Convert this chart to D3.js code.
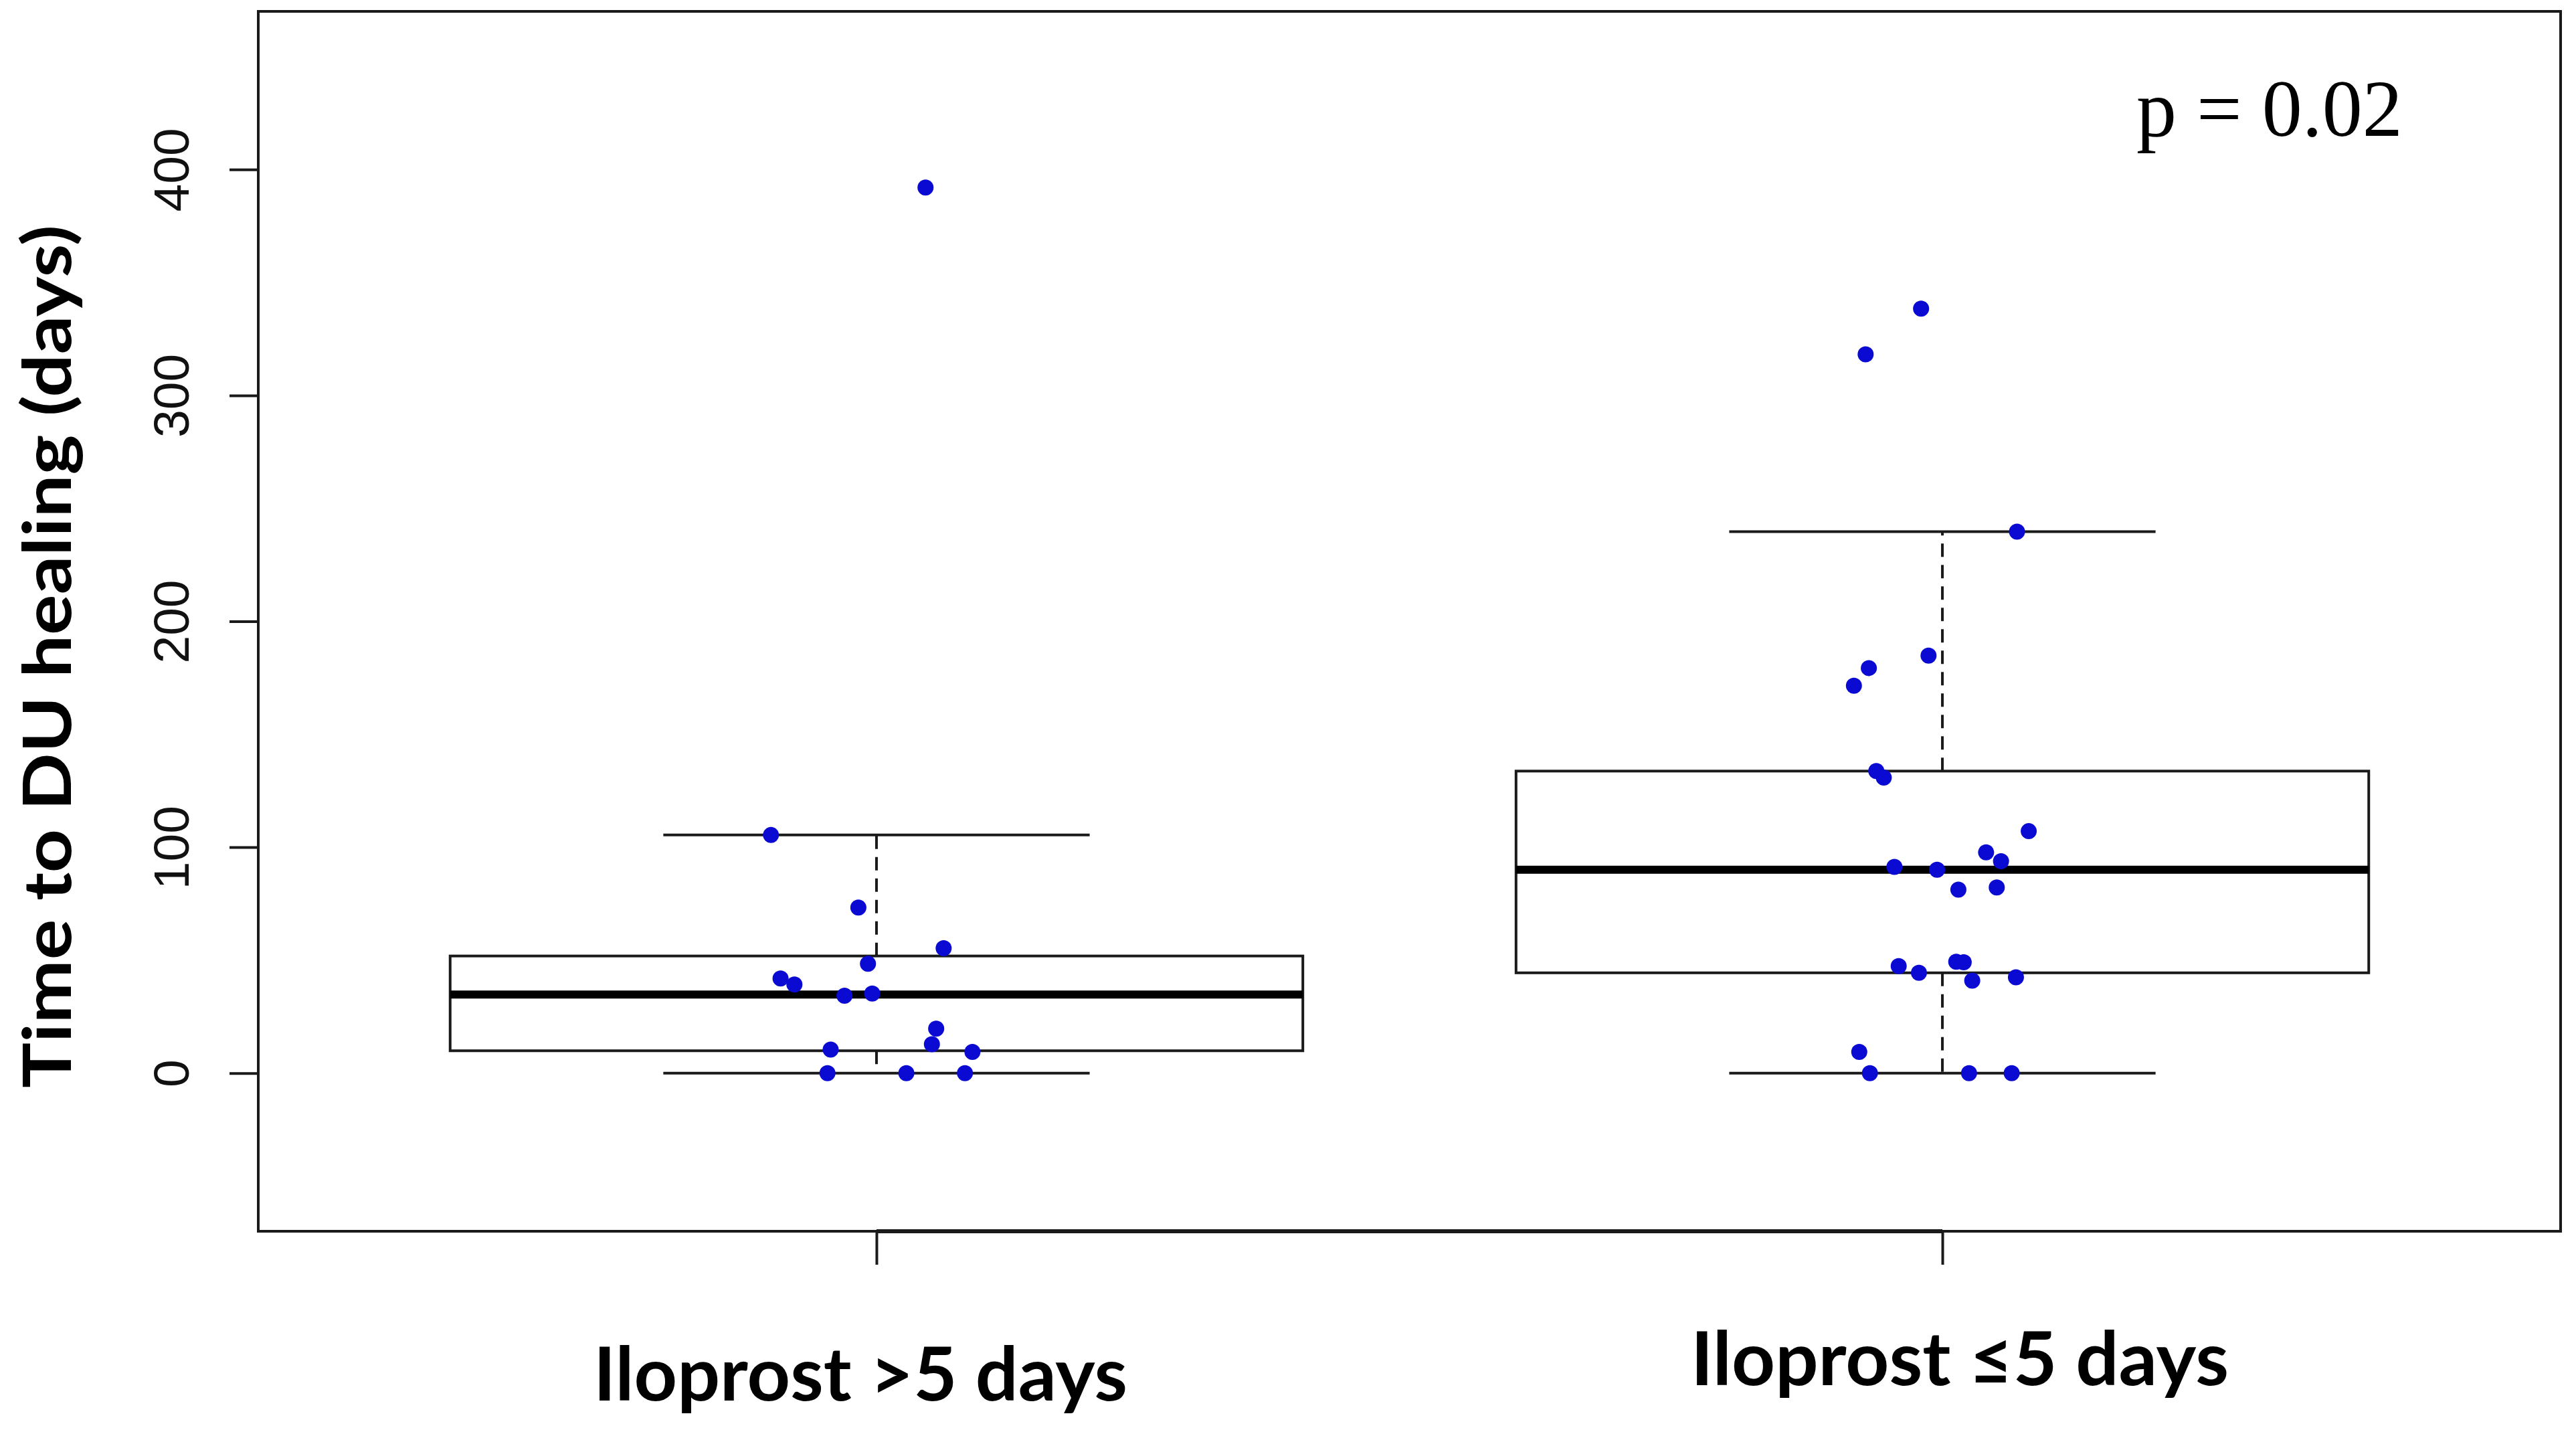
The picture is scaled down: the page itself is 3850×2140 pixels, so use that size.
<!DOCTYPE html>
<html>
<head>
<meta charset="utf-8">
<script src="https://cdn.jsdelivr.net/npm/d3@7"></script>
<style>
  html, body { margin: 0; padding: 0; background: #ffffff; }
  svg { display: block; }
</style>
</head>
<body>
<svg id="chart" width="3850" height="2140"></svg>
<script>
// ---------------- data ----------------
const categories = ["Iloprost >5 days", "Iloprost \u22645 days"];
const yTicks = [0, 100, 200, 300, 400];
const yLabel = "Time to DU healing (days)";
const pText = "p = 0.02";

// Group 1: Iloprost >5 days (values in days, jitter in category units)
const group1Values = [392, 105.4, 73.3, 55.3, 48.4, 41.9, 39.2, 34.3, 35.2, 19.7, 12.8, 10.4, 9.4, 0, 0, 0];
const group1Jitter = [0.046, -0.099, -0.017, 0.063, -0.008, -0.090, -0.077, -0.030, -0.004, 0.056, 0.052, -0.043, 0.090, -0.046, 0.028, 0.083];

// Group 2: Iloprost <=5 days
const group2Values = [338.4, 318.2, 239.7, 184.8, 179.3, 171.5, 133.7, 130.8, 107.1, 97.7, 93.8, 91.3, 90.0, 82.2, 81.2, 49.3, 49.1, 47.4, 44.4, 42.4, 40.9, 9.4, 0, 0, 0];
const group2Jitter = [-0.020, -0.072, 0.070, -0.013, -0.069, -0.083, -0.062, -0.055, 0.081, 0.041, 0.055, -0.045, -0.005, 0.051, 0.015, 0.013, 0.020, -0.041, -0.022, 0.069, 0.028, -0.078, -0.068, 0.025, 0.065];

// ---------------- layout ----------------
const frame = { left: 386, right: 3827, top: 17, bottom: 1840 };
const ink = "#1a1a1a";
const pointColor = "#0a0ad2";

const svg = d3.select("#chart");

const x = d3.scaleLinear().domain([0.42, 2.58]).range([frame.left, frame.right]);
const y = d3.scaleLinear().domain([-70, 470]).range([frame.bottom, frame.top]);

// Tukey five-number summary (as R's boxplot)
function fivenum(arr) {
  const s = arr.slice().sort((a, b) => a - b);
  const n = s.length;
  const n4 = Math.floor((n + 3) / 2) / 2;
  const idx = [1, n4, (n + 1) / 2, n + 1 - n4, n];
  return idx.map(d => 0.5 * (s[Math.floor(d) - 1] + s[Math.ceil(d) - 1]));
}
function boxStats(arr) {
  const f = fivenum(arr);
  const iqr = f[3] - f[1];
  const lo = f[1] - 1.5 * iqr, hi = f[3] + 1.5 * iqr;
  const inside = arr.filter(v => v >= lo && v <= hi);
  return { q1: f[1], med: f[2], q3: f[3], wlo: d3.min(inside), whi: d3.max(inside) };
}

const groups = [
  { pos: 1, values: group1Values, jitter: group1Jitter },
  { pos: 2, values: group2Values, jitter: group2Jitter }
];

// ---------------- frame ----------------
svg.append("rect")
  .attr("x", frame.left).attr("y", frame.top)
  .attr("width", frame.right - frame.left).attr("height", frame.bottom - frame.top)
  .attr("fill", "none").attr("stroke", ink).attr("stroke-width", 4);

// ---------------- boxes ----------------
const boxHalf = 0.4, capHalf = 0.2;
groups.forEach(g => {
  const st = boxStats(g.values);
  const G = svg.append("g");
  // whiskers (dashed)
  G.append("line").attr("x1", x(g.pos)).attr("x2", x(g.pos))
    .attr("y1", y(st.q3)).attr("y2", y(st.whi))
    .attr("stroke", ink).attr("stroke-width", 4).attr("stroke-dasharray", "20,12");
  G.append("line").attr("x1", x(g.pos)).attr("x2", x(g.pos))
    .attr("y1", y(st.q1)).attr("y2", y(st.wlo))
    .attr("stroke", ink).attr("stroke-width", 4).attr("stroke-dasharray", "20,12");
  // caps
  [st.whi, st.wlo].forEach(v => {
    G.append("line").attr("x1", x(g.pos - capHalf)).attr("x2", x(g.pos + capHalf))
      .attr("y1", y(v)).attr("y2", y(v))
      .attr("stroke", ink).attr("stroke-width", 4);
  });
  // box
  G.append("rect")
    .attr("x", x(g.pos - boxHalf)).attr("width", x(g.pos + boxHalf) - x(g.pos - boxHalf))
    .attr("y", y(st.q3)).attr("height", y(st.q1) - y(st.q3))
    .attr("fill", "none").attr("stroke", ink).attr("stroke-width", 4);
  // median
  G.append("line").attr("x1", x(g.pos - boxHalf)).attr("x2", x(g.pos + boxHalf))
    .attr("y1", y(st.med)).attr("y2", y(st.med))
    .attr("stroke", "#000").attr("stroke-width", 12);
});

// ---------------- points ----------------
groups.forEach(g => {
  svg.append("g").selectAll("circle")
    .data(g.values.map((v, i) => ({ v, j: g.jitter[i] })))
    .join("circle")
    .attr("cx", d => x(g.pos + d.j))
    .attr("cy", d => y(d.v))
    .attr("r", 12)
    .attr("fill", pointColor);
});

// ---------------- y axis ----------------
const yAxis = d3.axisLeft(y).tickValues(yTicks).tickSize(43).tickPadding(0).tickFormat(d3.format("d"));
const yG = svg.append("g").attr("transform", `translate(${frame.left},0)`).call(yAxis);
yG.select(".domain").attr("d", `M0,${y(0)}V${y(400)}`).attr("stroke", ink).attr("stroke-width", 4);
yG.selectAll(".tick line").attr("stroke", ink).attr("stroke-width", 4);
yG.selectAll(".tick text")
  .attr("x", null).attr("dy", null)
  .attr("transform", `translate(-104,0) rotate(-90)`)
  .attr("text-anchor", "middle")
  .attr("font-family", "'Liberation Sans', Arial, sans-serif")
  .attr("font-size", 75)
  .attr("fill", "#111");

// ---------------- x axis ----------------
const xAxis = d3.axisBottom(x).tickValues([1, 2]).tickSize(50).tickFormat("");
const xG = svg.append("g").attr("transform", `translate(0,${frame.bottom})`).call(xAxis);
xG.select(".domain").attr("d", `M${x(1)},0H${x(2)}`).attr("stroke", ink).attr("stroke-width", 6);
xG.selectAll(".tick line").attr("stroke", ink).attr("stroke-width", 4);

const labelOffsets = [{ dx: -24, base: 2093 }, { dx: 26, base: 2070 }];
svg.append("g").selectAll("text")
  .data(categories)
  .join("text")
  .attr("x", (d, i) => x(i + 1) + labelOffsets[i].dx)
  .attr("y", (d, i) => labelOffsets[i].base)
  .attr("text-anchor", "middle")
  .attr("font-family", "Lato, 'Open Sans', sans-serif")
  .attr("font-weight", "bold")
  .attr("font-size", 112)
  .attr("textLength", (d, i) => i === 0 ? 798 : 804)
  .attr("lengthAdjust", "spacingAndGlyphs")
  .attr("fill", "#000")
  .text(d => d);

// ---------------- y title ----------------
svg.append("text")
  .attr("transform", `translate(106,${(337 + 1625) / 2}) rotate(-90)`)
  .attr("text-anchor", "middle")
  .attr("font-family", "Lato, 'Open Sans', sans-serif")
  .attr("font-weight", "bold")
  .attr("font-size", 100)
  .attr("textLength", 1290)
  .attr("lengthAdjust", "spacingAndGlyphs")
  .attr("fill", "#000")
  .text(yLabel);

// ---------------- p value ----------------
svg.append("text")
  .attr("x", 3193).attr("y", 203)
  .attr("font-family", "'Liberation Serif', 'Times New Roman', serif")
  .attr("font-size", 120)
  .attr("fill", "#000")
  .text(pText);
</script>
</body>
</html>
